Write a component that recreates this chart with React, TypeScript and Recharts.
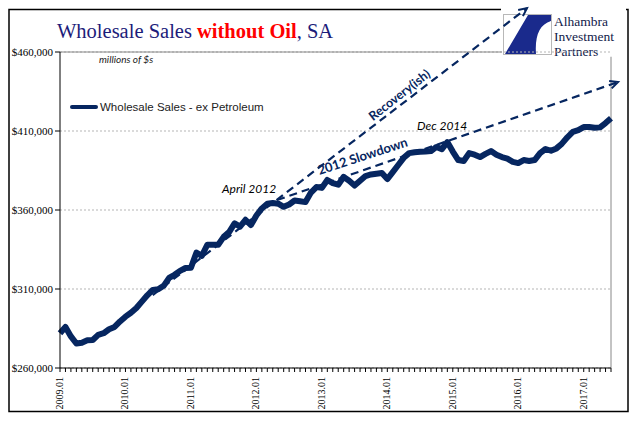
import React from "react";
import {
  LineChart,
  Line,
  XAxis,
  YAxis,
  CartesianGrid,
  ReferenceLine,
  Legend,
} from "recharts";

// monthly, 2009.01 .. 2017.06 (thousands of $)
const sales = [
  282, 286, 280, 275.5, 276, 277.5, 277.7, 281, 282, 284.5, 286, 289.5,
  292.5, 295, 298, 302, 306, 309.4, 309.8, 312, 317, 319, 321.5, 323.3,
  323.5, 333, 331, 338, 338, 338, 343, 346, 351.5, 349.5, 353.8, 350.5,
  356.5, 361, 364, 364.4, 364, 362, 363.5, 366, 365.5, 365, 371, 374.5,
  374, 379, 377, 376, 381, 378.5, 375.5, 378.5, 381.5, 382.5, 383, 383.4,
  379.6, 384, 388.5, 393, 396, 396.5, 396.8, 397, 397.3, 399.9, 398.5, 403,
  397, 391.6, 391, 396, 395, 393.5, 395.5, 397.3, 395, 393.5, 392.5, 390.5,
  389.7, 391.6, 391, 391.6, 396, 398.6, 397.5, 399, 402, 406, 409.4, 410.5,
  412.5, 412.5, 412, 412.3, 415, 418,
];
const firstYear = 2009;
const yTicks = [260000, 310000, 360000, 410000, 460000];

// trend arrows: [month index, $]
const recoveryArrow = [
  { x: 17, y: 306200 },
  { x: 85.6, y: 487800 },
];
const slowdownArrow = [
  { x: 39.8, y: 366300 },
  { x: 102.3, y: 441000 },
];

const NAVY = "#062660";

const data = sales.map((v, i) => ({ idx: i, value: v * 1000 }));
const monthTicks = data.map((d) => d.idx);

const monthLabel = (i: number) =>
  `${firstYear + Math.floor(i / 12)}.${String((i % 12) + 1).padStart(2, "0")}`;

const XTick = (props: any) => {
  const { x, y, payload } = props;
  if (payload.value % 12 !== 0) return <g />;
  return (
    <text
      transform={`translate(${x},${y + 3}) rotate(-90)`}
      textAnchor="end"
      dy={3}
      fontFamily="Liberation Serif"
      fontSize={10}
      fill="#000"
    >
      {monthLabel(payload.value)}
    </text>
  );
};

const Arrow = (props: any) => {
  const { x1, y1, x2, y2 } = props;
  const a = Math.atan2(y2 - y1, x2 - x1);
  const L = 9;
  const s = 0.45;
  const p1 = [x2 - L * Math.cos(a - s), y2 - L * Math.sin(a - s)];
  const p2 = [x2 - L * Math.cos(a + s), y2 - L * Math.sin(a + s)];
  return (
    <g>
      <line
        x1={x1}
        y1={y1}
        x2={x2}
        y2={y2}
        stroke={NAVY}
        strokeWidth={2.2}
        strokeDasharray="8 5"
      />
      <path
        d={`M${p1[0]},${p1[1]} L${x2},${y2} L${p2[0]},${p2[1]}`}
        stroke={NAVY}
        strokeWidth={2}
        fill="none"
      />
    </g>
  );
};

const LegendContent = (props: any) => {
  const item = props.payload?.[0];
  return (
    <div style={{ display: "flex", alignItems: "center" }}>
      <div style={{ width: 28, height: 4, background: NAVY, borderRadius: 2 }} />
      <span
        style={{
          fontFamily: "Liberation Sans",
          fontSize: 11.5,
          color: "#222",
          marginLeft: 2,
          whiteSpace: "nowrap",
        }}
      >
        {item?.value}
      </span>
    </div>
  );
};

export default function App() {
  return (
    <div
      style={{
        position: "absolute",
        left: 0,
        top: 0,
        width: 641,
        height: 421,
        background: "#fff",
      }}
    >
      <svg
        width={641}
        height={421}
        style={{ position: "absolute", left: 0, top: 0 }}
      >
        <rect x={9} y={9.5} width={619} height={402} fill="none" stroke="#000" strokeWidth={1.5} />
        <text x={57} y={38} fontFamily="Liberation Serif" fontSize={20.5} fill="#1c1c7a">
          <tspan>Wholesale Sales </tspan>
          <tspan fill="#ff0000" fontWeight="bold">without Oil</tspan>
          <tspan>, SA</tspan>
        </text>
        {/* logo */}
        <rect x={501} y={6} width={125} height={52} fill="#fff" />
        <rect x={503.5} y={14.5} width={48} height={40} fill="#fff" stroke="#b8b8b8" />
        <path
          d="M528,15 L551,15 L551,21 Q534,26 536,54 L505,54 Z"
          fill="#1a2a8c"
        />
        <path d="M551,21 Q540,34 551,50 Z" fill="#fff" />
        <g fontFamily="Liberation Serif" fontSize={13.5} fill="#111a4a">
          <text x={554} y={26}>Alhambra</text>
          <text x={554} y={41}>Investment</text>
          <text x={554} y={56}>Partners</text>
        </g>
        <text x={99} y={63} fontFamily="Lato" fontStyle="italic" fontSize={10} fill="#1a1a1a">
          millions of $s
        </text>
        <text x={222} y={193} fontFamily="Lato" fontStyle="italic" fontSize={12} fill="#000">
          April 2012
        </text>
        <text x={417} y={130} fontFamily="Lato" fontStyle="italic" fontSize={12} fill="#000">
          Dec 2014
        </text>
      </svg>
      <div style={{ position: "absolute", left: 0, top: 0 }}>
        <LineChart
          width={641}
          height={421}
          data={data}
          margin={{ top: 52, right: 30, bottom: 0, left: 8 }}
        >
          <CartesianGrid
            vertical={false}
            stroke="#b5b5b5"
            strokeDasharray="2 2"
          />
          <XAxis
            dataKey="idx"
            type="number"
            domain={[0, sales.length - 1]}
            ticks={monthTicks}
            interval={0}
            height={53}
            tick={<XTick />}
            tickSize={4}
            axisLine={{ stroke: "#000" }}
            tickLine={{ stroke: "#000" }}
          />
          <YAxis
            domain={[260000, 460000]}
            ticks={yTicks}
            width={52}
            tickSize={5}
            tickFormatter={(v: number) => `$${v.toLocaleString("en-US")}`}
            tick={{ fill: "#000", fontSize: 11, fontFamily: "Liberation Serif" }}
            axisLine={{ stroke: "#000" }}
            tickLine={{ stroke: "#000" }}
          />
          <ReferenceLine
            segment={[
              { x: 0, y: 460000 },
              { x: 81, y: 460000 },
            ]}
            stroke="#888"
          />
          <ReferenceLine
            segment={[
              { x: sales.length - 1, y: 260000 },
              { x: sales.length - 1, y: 457000 },
            ]}
            stroke="#888"
          />
          <ReferenceLine segment={recoveryArrow} ifOverflow="visible" shape={Arrow} />
          <ReferenceLine segment={slowdownArrow} ifOverflow="visible" shape={Arrow} />
          <Line
            type="linear"
            dataKey="value"
            name="Wholesale Sales - ex Petroleum"
            stroke={NAVY}
            strokeWidth={6}
            strokeLinejoin="round"
            dot={false}
            activeDot={false}
            isAnimationActive={false}
          />
          <Legend
            layout="horizontal"
            align="center"
            verticalAlign="middle"
            content={<LegendContent />}
            wrapperStyle={{ left: 70, top: 101, width: "auto" }}
          />
        </LineChart>
      </div>
      <svg
        width={641}
        height={421}
        style={{ position: "absolute", left: 0, top: 0, pointerEvents: "none" }}
      >
        <text
          transform="translate(402,98.5) rotate(-38)"
          textAnchor="middle"
          fontFamily="Lato"
          fontWeight="bold"
          fontSize={12.5}
          fill={NAVY}
        >
          Recovery(ish)
        </text>
        <text
          transform="translate(364,160.5) rotate(-18)"
          textAnchor="middle"
          fontFamily="Lato"
          fontWeight="bold"
          fontSize={13}
          fill={NAVY}
        >
          2012 Slowdown
        </text>
      </svg>
    </div>
  );
}
